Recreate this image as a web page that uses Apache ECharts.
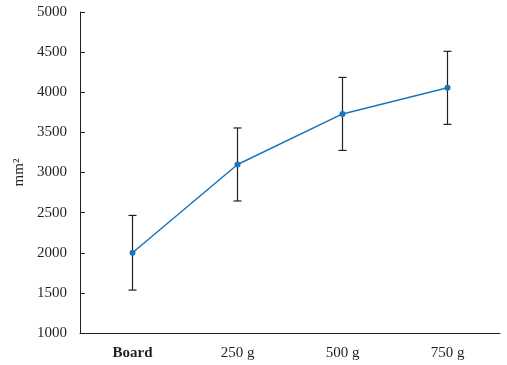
<!DOCTYPE html>
<html>
<head>
<meta charset="utf-8">
<script src="https://cdn.jsdelivr.net/npm/echarts@6/dist/echarts.min.js"></script>
<style>html,body{margin:0;padding:0;background:#fff;}#c{width:507px;height:365px;}</style>
</head>
<body>
<div id="c"></div>
<script>
var categories = ['Board', '250 g', '500 g', '750 g'];
var means = [2000, 3100, 3730, 4055];
var lowers = [1535, 2645, 3275, 3600];
var uppers = [2465, 3555, 4185, 4510];
var yTicks = [1000, 1500, 2000, 2500, 3000, 3500, 4000, 4500, 5000];

var font = '"Liberation Serif", "DejaVu Serif", serif';
var chart = echarts.init(document.getElementById('c'));
var errData = categories.map(function (c, i) { return [i, lowers[i], uppers[i]]; });

chart.setOption({
  animation: false,
  grid: { left: 80, right: 7, top: 12, bottom: 32 },
  xAxis: {
    type: 'category',
    data: categories,
    boundaryGap: true,
    axisLine: { lineStyle: { color: '#231f20', width: 1 } },
    axisTick: { show: false },
    axisLabel: {
      margin: 13,
      fontFamily: font, fontSize: 15, color: '#231f20',
      formatter: function (v) { return v === 'Board' ? '{b|' + v + '}' : v; },
      rich: { b: { fontWeight: 'bold', fontFamily: font, fontSize: 15, color: '#231f20' } }
    }
  },
  yAxis: {
    type: 'value',
    min: yTicks[0], max: yTicks[yTicks.length - 1], interval: 500,
    name: 'mm²',
    nameLocation: 'middle',
    nameGap: 53,
    nameRotate: 90,
    nameTextStyle: { fontFamily: font, fontSize: 15, color: '#231f20' },
    splitLine: { show: false },
    axisLine: { show: true, lineStyle: { color: '#231f20', width: 1 } },
    axisTick: { show: true, inside: true, length: 5, lineStyle: { color: '#231f20' } },
    axisLabel: {
      margin: 13, fontFamily: font, fontSize: 15, color: '#231f20',
      formatter: function (v) { return String(v); }
    }
  },
  series: [
    {
      type: 'custom',
      data: errData,
      z: 1,
      renderItem: function (params, api) {
        var x = api.value(0);
        var lo = api.coord([x, api.value(1)]);
        var hi = api.coord([x, api.value(2)]);
        var hw = 4;
        var st = { stroke: '#231f20', lineWidth: 1.2 };
        return {
          type: 'group',
          children: [
            { type: 'line', shape: { x1: lo[0], y1: lo[1], x2: hi[0], y2: hi[1] }, style: st },
            { type: 'line', shape: { x1: hi[0] - hw, y1: hi[1], x2: hi[0] + hw, y2: hi[1] }, style: st },
            { type: 'line', shape: { x1: lo[0] - hw, y1: lo[1], x2: lo[0] + hw, y2: lo[1] }, style: st }
          ]
        };
      }
    },
    {
      type: 'line',
      data: means,
      z: 2,
      symbol: 'circle',
      symbolSize: 6,
      lineStyle: { color: '#1b75bb', width: 1.5 },
      itemStyle: { color: '#1b75bb' }
    }
  ]
});
</script>
</body>
</html>
